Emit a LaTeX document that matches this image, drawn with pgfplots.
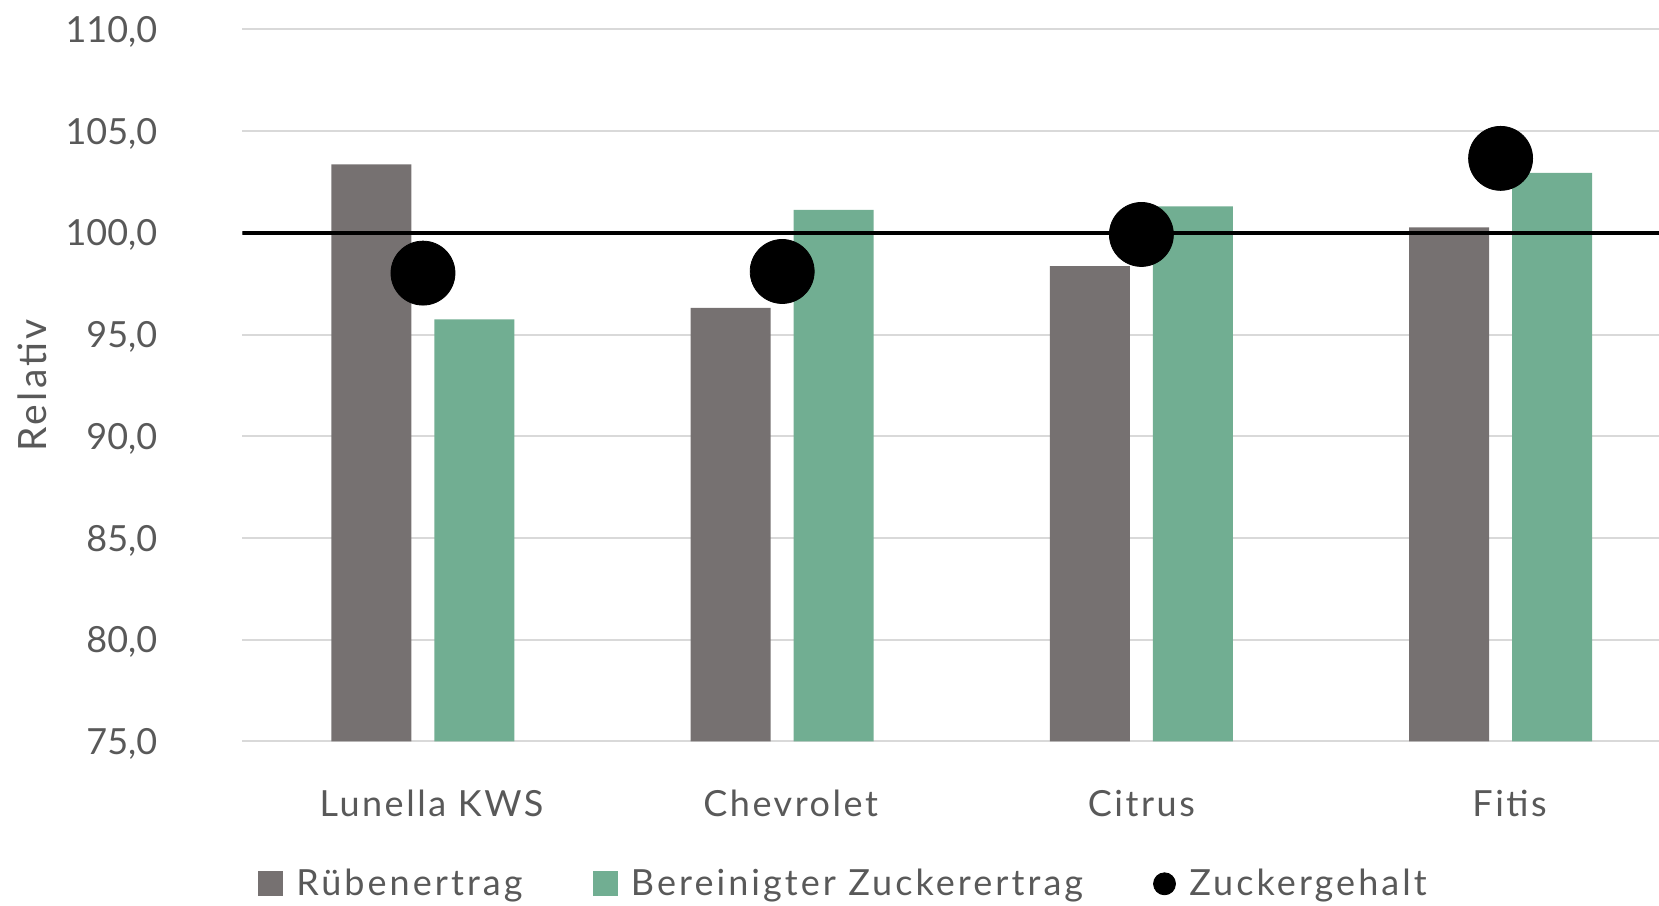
\documentclass[border=0pt]{standalone}
\usepackage{pgfplots}
\pgfplotsset{compat=1.18}
\usepackage{fontspec}
\setmainfont{Lato}
\newfontfamily\catfont[LetterSpace=7]{Lato}
\newfontfamily\legfont[LetterSpace=8.5]{Lato}

\definecolor{rgray}{HTML}{767171}
\definecolor{zgreen}{HTML}{71AE92}
\definecolor{txt}{HTML}{595959}
\definecolor{gridc}{HTML}{D9D9D9}

\begin{document}
\begin{tikzpicture}
  \begin{axis}[
      at={(0,0)}, anchor=south west,
      scale only axis,
      width=708.35pt, height=356pt,
      xmin=-0.503, xmax=3.441,
      ymin=75, ymax=110,
      ytick={75,80,...,110},
      xtick={0,1,2,3},
      xticklabels={\kern8.5pt Lunella KWS, \kern8.5pt Chevrolet, Citrus, \kern9pt Fitis},
      axis line style={draw=none},
      major tick length=0pt,
      ymajorgrids,
      grid style={gridc, line width=1pt},
      font=\fontsize{18}{22}\selectfont,
      every tick label/.append style={txt, inner sep=0pt},
      /pgf/number format/fixed,
      /pgf/number format/fixed zerofill,
      /pgf/number format/precision=1,
      /pgf/number format/use comma,
      /pgf/number format/assume math mode=true,
      yticklabel style={anchor=east, text depth=0pt, xshift=-42.3pt},
      xticklabel style={anchor=base, yshift=-37.3pt, font=\fontsize{18}{22}\catfont},
      ylabel={Relativ},
      ylabel style={at={(axis description cs:-0.1481,0.5)}, anchor=center,
        text depth=0pt, txt, font=\fontsize{19.5}{23}\legfont},
      legend columns=3,
      legend style={draw=none, fill=none, inner sep=0pt,
        at={(axis description cs:0.0108,-0.2)}, anchor=west,
        font=\fontsize{18}{22}\legfont,
        nodes={inner sep=0pt, txt},
        /tikz/every odd column/.append style={column sep=6.7pt},
        /tikz/every even column/.append style={column sep=35pt}},
    ]
    \addplot[ybar, bar width=40pt, bar shift=-25.75pt, fill=rgray, draw=none,
      legend image code/.code={\fill[rgray] (0pt,-6.25pt) rectangle (12.5pt,6.25pt);}]
      coordinates {(0,103.36) (1,96.31) (2,98.36) (3,100.27)};
    \addlegendentry{Rübenertrag}
    \addplot[ybar, bar width=40pt, bar shift=25.75pt, fill=zgreen, draw=none,
      legend image code/.code={\fill[zgreen] (0pt,-6.25pt) rectangle (12.5pt,6.25pt);}]
      coordinates {(0,95.74) (1,101.13) (2,101.30) (3,102.95)};
    \addlegendentry{Bereinigter Zuckerertrag}
    % Bezugslinie 100
    \addplot[black, line width=2pt, forget plot]
      coordinates {(-0.6,100) (3.6,100)};
    \addplot[only marks, mark=*, mark size=16pt, black,
      legend image code/.code={\fill[black] (5.5pt,0pt) circle (5.5pt);}]
      coordinates {(0,98.02) (1,98.10) (2,99.92) (3,103.66)};
    \addlegendentry{Zuckergehalt}
  \end{axis}
  \pgfresetboundingbox
  \path[use as bounding box] (-121.15pt,-81.8pt) rectangle (708.35pt,370.7pt);
\end{tikzpicture}
\end{document}
